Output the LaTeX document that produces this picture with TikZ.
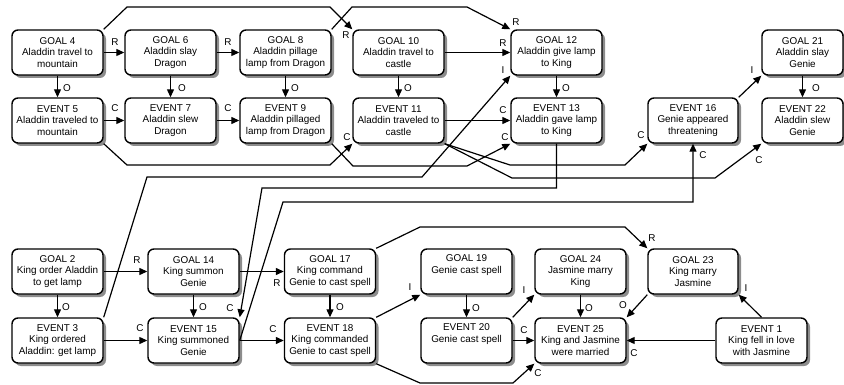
\documentclass[tikz,border=0pt]{standalone}
\usepackage{fontspec}
\setmainfont{Liberation Sans}
\usetikzlibrary{arrows.meta,shadows}
\begin{document}
\begin{tikzpicture}[x=1pt,y=-1pt,
  box/.style={draw, line width=1.4pt, rounded corners=6pt, fill=white,
    minimum width=91pt, minimum height=45pt, inner sep=0pt, align=center,
    font=\fontsize{9.9}{11.7}\selectfont,
    drop shadow={shadow xshift=3pt, shadow yshift=-3pt, fill=black!45, opacity=1}},
  arr/.style={line width=1.2pt, -{Triangle[length=8pt,width=7pt]}},
  lbl/.style={font=\fontsize{9.9}{11}\selectfont, inner sep=0pt}]
\useasboundingbox (0,0) rectangle (844,385);
% top row goals
\node[box] (g4) at (57.5,52.5) {GOAL 4\\Aladdin travel to\\mountain};
\node[box] (g6) at (170.5,52.5) {GOAL 6\\Aladdin slay\\Dragon};
\node[box] (g8) at (285.5,52.5) {GOAL 8\\Aladdin pillage\\lamp from Dragon};
\node[box] (g10) at (398.5,52.5) {GOAL 10\\Aladdin travel to\\castle};
\node[box] (g12) at (556.5,52.5) {GOAL 12\\Aladdin give lamp\\to King};
\node[box, minimum width=81pt] (g21) at (802.5,52.5) {GOAL 21\\Aladdin slay\\Genie};
% top row events
\node[box] (e5) at (57.5,120.5) {EVENT 5\\Aladdin traveled to\\mountain};
\node[box] (e7) at (170.5,120.5) {EVENT 7\\Aladdin slew\\Dragon};
\node[box] (e9) at (285.5,120.5) {EVENT 9\\Aladdin pillaged\\lamp from Dragon};
\node[box] (e11) at (398.5,120.5) {EVENT 11\\Aladdin traveled to\\castle};
\node[box] (e13) at (556.5,120.5) {EVENT 13\\Aladdin gave lamp\\to King};
\node[box, minimum width=90pt] (e16) at (693,120.5) {EVENT 16\\Genie appeared\\threatening};
\node[box, minimum width=81pt] (e22) at (802.5,120.5) {EVENT 22\\Aladdin slew\\Genie};
% bottom row goals
\node[box] (g2) at (57.5,271.5) {GOAL 2\\King order Aladdin\\to get lamp};
\node[box] (g14) at (193.5,271.5) {GOAL 14\\King summon\\Genie};
\node[box] (g17) at (330,271.5) {GOAL 17\\King command\\Genie to cast spell};
\node[box] (g19) at (466.5,271.5) {GOAL 19\\Genie cast spell\\\strut};
\node[box] (g24) at (580.5,271.5) {GOAL 24\\Jasmine marry\\King};
\node[box, minimum width=90pt] (g23) at (693,271.5) {GOAL 23\\King marry\\Jasmine};
% bottom row events
\node[box] (e3) at (57.5,340.5) {EVENT 3\\King ordered\\Aladdin: get lamp};
\node[box] (e15) at (193.5,340.5) {EVENT 15\\King summoned\\Genie};
\node[box] (e18) at (330,340.5) {EVENT 18\\King commanded\\Genie to cast spell};
\node[box] (e20) at (466.5,340.5) {EVENT 20\\Genie cast spell\\\strut};
\node[box] (e25) at (580.5,340.5) {EVENT 25\\King and Jasmine\\were married};
\node[box] (e1) at (761.5,340.5) {EVENT 1\\King fell in love\\with Jasmine};

% top connectors
\draw[arr] (g4) -- (g6);
\draw[arr] (g6) -- (g8);
\draw[arr] (g10) -- (g12);
\draw[arr] (g4) -- (e5);
\draw[arr] (g6) -- (e7);
\draw[arr] (g8) -- (e9);
\draw[arr] (g10) -- (e11);
\draw[arr] (g12) -- (e13);
\draw[arr] (g21) -- (e22);
\draw[arr] (e5) -- (e7);
\draw[arr] (e7) -- (e9);
\draw[arr] (e11) -- (e13);
\draw[arr] (g4.north east) -- (127,7) -- (330,7) -- (g10.north west);
\draw[arr] (g8.north east) -- (352,7) -- (467,7) -- (g12.north west);
\draw[arr] (e3.north east) -- (147,177) -- (422,177) -- (g12.south west);
\draw[arr] (e5.south east) -- (127,165) -- (330,165) -- (e11.south west);
\draw[arr] (e9.south east) -- (353,166) -- (467,166) -- (e13.south west);
\draw[arr] (e11.south east) -- (510,165) -- (625,165) -- (e16.south west);
\draw[arr] (e11.south east) -- (512,178) -- (715,178) -- (e22.south west);
\draw[arr] (e13.south) -- (556.5,188) -- (262,188) -- (e15.north east);
\draw[arr] (e15.east) -- (283,202) -- (693,202) -- (e16.south);
\draw[arr] (e16.north east) -- (g21.south west);
% bottom connectors
\draw[arr] (g2) -- (g14);
\draw[arr] (g2) -- (e3);
\draw[arr] (e3) -- (e15);
\draw[arr] (g14) -- (e15);
\draw[arr] (g14) -- (g17);
\draw[arr] (e15) -- (e18);
\draw[arr] (g17) -- (e18);
\draw[arr] (g17.north east) -- (420,227) -- (625,227) -- (g23.north west);
\draw[arr] (e18.north east) -- (g19.south west);
\draw[arr] (g19) -- (e20);
\draw[arr] (e18.south east) -- (420,383) -- (513,383) -- (e25.south west);
\draw[arr] (e20) -- (e25);
\draw[arr] (e20.north east) -- (g24.south west);
\draw[arr] (g24) -- (e25);
\draw[arr] (g23.south west) -- (e25.north east);
\draw[arr] (e1) -- (e25);
\draw[arr] (e1.north) -- (g23.south east);

% labels top
\node[lbl] (l1) at (115,42) {R};
\node[lbl] (l2) at (228,42) {R};
\node[lbl] (l3) at (67,88) {O};
\node[lbl] (l4) at (182,88) {O};
\node[lbl] (l5) at (295,88) {O};
\node[lbl] (l6) at (408,88) {O};
\node[lbl] (l7) at (566,88) {O};
\node[lbl] (l8) at (816,88) {O};
\node[lbl] (l9) at (115,108) {C};
\node[lbl] (l10) at (228,108) {C};
\node[lbl] (l11) at (346,35) {R};
\node[lbl] (l12) at (516,22) {R};
\node[lbl] (l13) at (503,43) {R};
\node[lbl] (l14) at (503,70) {I};
\node[lbl] (l15) at (503,110) {C};
\node[lbl] (l16) at (347,137) {C};
\node[lbl] (l17) at (505,137) {C};
\node[lbl] (l18) at (641,135) {C};
\node[lbl] (l19) at (752,70) {I};
\node[lbl] (l20) at (703,155) {C};
\node[lbl] (l21) at (759,160) {C};
\node[lbl] (l22) at (230,308) {C};
% labels bottom
\node[lbl] (l23) at (137,260) {R};
\node[lbl] (l24) at (66,307) {O};
\node[lbl] (l25) at (140,328) {C};
\node[lbl] (l26) at (203,307) {O};
\node[lbl] (l27) at (277,283) {R};
\node[lbl] (l28) at (273,329) {C};
\node[lbl] (l29) at (340,307) {O};
\node[lbl] (l30) at (652,238) {R};
\node[lbl] (l31) at (410,287) {I};
\node[lbl] (l32) at (476,308) {O};
\node[lbl] (l33) at (524,290) {I};
\node[lbl] (l34) at (524,330) {C};
\node[lbl] (l35) at (589,308) {O};
\node[lbl] (l36) at (623,305) {O};
\node[lbl] (l37) at (634,353) {C};
\node[lbl] (l38) at (746,288) {I};
\node[lbl] (l39) at (538,373) {C};
\end{tikzpicture}
\end{document}
